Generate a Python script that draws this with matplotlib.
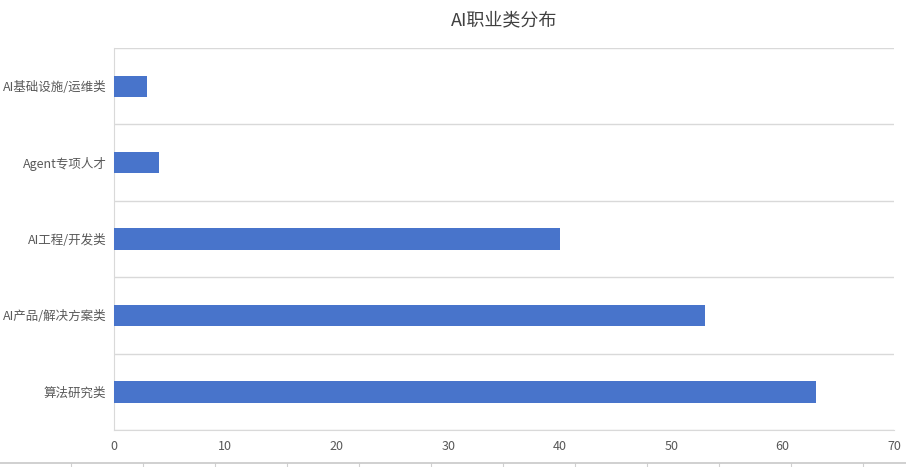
import matplotlib.pyplot as plt
import numpy as np

plt.rcParams['font.family'] = ['Noto Sans CJK SC', 'DejaVu Sans']

# data (top to bottom as shown)
categories = ["AI基础设施/运维类", "Agent专项人才", "AI工程/开发类", "AI产品/解决方案类", "算法研究类"]
counts = [3, 4, 40, 53, 63]
x_ticks = [0, 10, 20, 30, 40, 50, 60, 70]

bar_color = "#4874CB"
text_color = "#595959"
grid_color = "#D9D9D9"

fig = plt.figure(figsize=(9.06, 4.67), dpi=100)
ax = fig.add_axes([0.1258, 0.0792, 0.861, 0.818])

n = len(categories)
ypos = np.arange(n)[::-1]
ax.barh(ypos, counts, height=0.28, color=bar_color, zorder=3)

ax.set_xlim(0, 70)
ax.set_ylim(-0.5, n - 0.5)
ax.set_xticks(x_ticks)
ax.set_xticklabels([str(t) for t in x_ticks], color=text_color, fontsize=9)
ax.set_yticks(ypos)
ax.set_yticklabels(categories, color=text_color, fontsize=9)
ax.tick_params(axis='both', length=0)
ax.tick_params(axis='x', pad=7)
ax.tick_params(axis='y', pad=5.5)

# gridlines on category boundaries
ax.set_yticks(np.arange(-0.5, n, 1.0), minor=True)
ax.tick_params(axis='y', which='minor', length=0)
ax.grid(axis='y', which='minor', color=grid_color, linewidth=1, zorder=0)
ax.grid(axis='x', visible=False)

for side in ['top', 'right']:
    ax.spines[side].set_visible(False)
ax.spines['left'].set_color(grid_color)
ax.spines['bottom'].set_color(grid_color)

ax.set_title("AI职业类分布", color="#404040", fontsize=13, pad=16)

# ruler strip at the very bottom of the image
rax = fig.add_axes([0.0, 0.0, 1.0, 0.009])
rax.set_xlim(0, 906)
rax.set_ylim(0, 1)
rax.set_facecolor("none")
for side in ['left', 'right', 'bottom']:
    rax.spines[side].set_visible(False)
rax.spines['top'].set_color("#C8C8C8")
rax.spines['top'].set_linewidth(1.2)
rax.set_yticks([])
rax.xaxis.set_ticks_position('top')
rax.set_xticks(np.arange(70.5, 906, 72))
rax.tick_params(axis='x', direction='in', length=4, color="#D0D0D0", labeltop=False, labelbottom=False)

fig.savefig("out.png", dpi=100)
